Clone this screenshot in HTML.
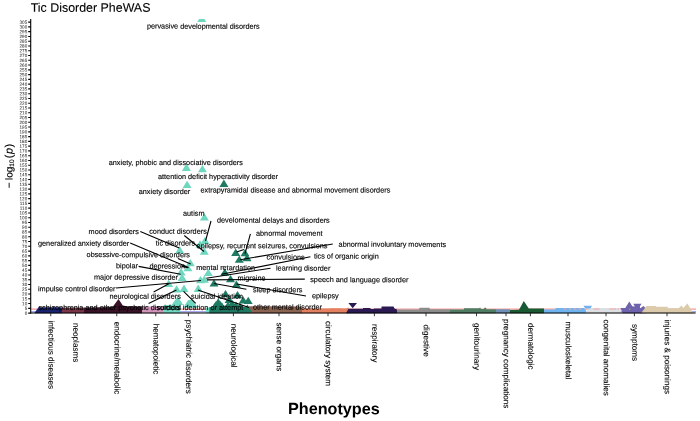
<!DOCTYPE html>
<html><head><meta charset="utf-8"><title>Tic Disorder PheWAS</title><style>html,body{margin:0;padding:0;background:#fff;width:700px;height:421px;overflow:hidden}</style></head><body>
<svg width="700" height="421" viewBox="0 0 700 421" style="position:absolute;left:0;top:0;opacity:0.999;will-change:transform;font-family:'Liberation Sans',sans-serif" text-rendering="geometricPrecision">
<defs><clipPath id="pc"><rect x="31" y="19" width="666" height="295"/></clipPath></defs>
<rect width="700" height="421" fill="#fff"/>
<line x1="31" x2="696" y1="309.1" y2="309.1" stroke="#f59a9a" stroke-width="1.2"/>
<line x1="31" x2="696" y1="311.8" y2="311.8" stroke="#a9a6f2" stroke-width="1.5"/>
<polygon points="34.5,313.2 34.5,313.0 38.5,307.3 58.0,307.3 62.0,307.6 62,313.2" fill="#18226e"/>
<polygon points="62,313.2 62.0,307.6 84.0,307.6 84,313.2" fill="#7a3648"/>
<polygon points="84,313.2 84.0,307.6 100.0,307.2 112.6,307.0 118.5,299.0 122.8,305.6 127.0,306.2 142.0,306.4 142,313.2" fill="#3a1228"/>
<polygon points="142,313.2 142.0,306.6 163.6,306.8 163.6,313.2" fill="#d394bb"/>
<polygon points="163.6,313.2 163.6,305.0 180.3,305.0 180.3,313.2" fill="#6fd6bf"/>
<polygon points="205.8,313.2 205.8,307.6 209.5,307.6 209.5,313.2" fill="#6fd6bf"/>
<polygon points="209.3,313.2 209.3,307.0 245.0,306.8 249.5,307.5 249.5,313.2" fill="#1f7a63"/>
<polygon points="249,313.2 249.0,306.2 299.0,306.4 303.0,308.0 303,313.2" fill="#8b6351"/>
<polygon points="302,313.2 302.0,308.5 330.0,308.5 330.0,308.2 342.0,308.2 342.0,308.5 346.0,308.5 348.6,307.6 348.6,313.2" fill="#e2805f"/>
<polygon points="346,313.2 346.0,313.2 348.5,308.8 363.0,308.8 363.0,308.0 370.5,308.0 370.5,309.0 374.0,309.0 374.0,308.5 381.5,308.5 381.5,306.5 393.5,306.5 394.5,308.5 397.0,309.5 397,313.2" fill="#2b1a52"/>
<polygon points="397,313.2 397.0,309.5 419.0,309.5 419.5,307.8 429.5,307.8 430.0,309.2 450.0,309.2 450,313.2" fill="#8c8c8c"/>
<polygon points="450,313.2 450.0,309.4 464.0,309.4 464.0,308.2 479.5,308.2 480.0,307.2 480.6,308.2 481.0,309.0 484.0,309.0 484.5,307.8 486.0,307.8 486.5,309.2 496.0,309.2 496,313.2" fill="#4f7d63"/>
<polygon points="496,313.2 496.0,309.2 510.0,309.2 510,313.2" fill="#6f8fb5"/>
<polygon points="510,313.2 510.0,310.0 519.0,309.8 523.8,301.0 528.8,308.6 544.0,308.5 544,313.2" fill="#1a5a32"/>
<polygon points="544,313.2 544.0,309.6 555.0,309.4 556.0,308.1 584.0,308.1 588.0,313.2 587,313.2" fill="#6fb4ee"/>
<polygon points="585,313.2 585.0,313.2 588.5,307.9 620.5,307.9 621,313.2" fill="#dcdfe3"/>
<polygon points="348.4,303.0 357.0,303.0 352.7,308.2" fill="#2b1a52"/>
<polygon points="583.5,305.8 592,305.8 590.4,308.5 585.2,308.5" fill="#6fb4ee"/>
<path d="M563.5 309h3M569 309h2.5M573.5 309h3M578.5 309h3M593.5 309h6M609.5 309h6.5M617.5 309h1.5" stroke="#f7a6a6" stroke-width="1" fill="none"/>
<polygon points="620.5,308 641.7,308 643,313.2 622.6,313.2" fill="#6f63ad"/>
<polygon points="624.6,309 629.3,301.5 634,309" fill="#6f63ad"/>
<polygon points="633.2,303.7 641.5,303.7 637.4,310.5" fill="#6f63ad"/>
<polygon points="640,308.5 643.5,306 646,308.5 646,313.2 640,313.2" fill="#6f63ad"/>
<polygon points="631,306.4 640,306.4 640,309 631,309" fill="#6f63ad"/>
<rect x="629.2" y="308.8" width="1.2" height="0.9" fill="#e9a05a"/>
<polygon points="641,313.2 646.5,306.0 656,306.0 656,306.7 667.8,306.7 667.8,308.3 678.6,308.3 681.5,305.5 683.2,308 687.5,303.5 692.5,312 694,313.2" fill="#dccbaa"/>
<g clip-path="url(#pc)">
<polygon points="183.6,307.6 188.6,299.9 192,299.9 197.4,307.6" fill="#6fd6bf"/>
<polygon points="171.5,305 177.6,296.8 183.2,305" fill="#6fd6bf"/>
<polygon points="201.7,14.6 197.2,21.9 206.2,21.9" fill="#6fd6bf"/>
<polygon points="186.4,163.6 181.9,170.9 190.9,170.9" fill="#6fd6bf"/>
<polygon points="202.4,165.0 197.9,172.3 206.9,172.3" fill="#6fd6bf"/>
<polygon points="187.1,180.7 182.6,188.0 191.6,188.0" fill="#6fd6bf"/>
<polygon points="204.4,213.2 199.9,220.5 208.9,220.5" fill="#6fd6bf"/>
<polygon points="205.0,236.7 200.5,244.0 209.5,244.0" fill="#6fd6bf"/>
<polygon points="200.0,240.3 195.5,247.6 204.5,247.6" fill="#6fd6bf"/>
<polygon points="204.3,247.5 199.8,254.8 208.8,254.8" fill="#6fd6bf"/>
<polygon points="179.7,246.1 175.2,253.4 184.2,253.4" fill="#6fd6bf"/>
<polygon points="190.3,258.9 185.8,266.2 194.8,266.2" fill="#6fd6bf"/>
<polygon points="187.9,263.9 183.4,271.2 192.4,271.2" fill="#6fd6bf"/>
<polygon points="181.1,268.1 176.6,275.4 185.6,275.4" fill="#6fd6bf"/>
<polygon points="182.1,273.8 177.6,281.1 186.6,281.1" fill="#6fd6bf"/>
<polygon points="208.3,268.8 203.8,276.1 212.8,276.1" fill="#6fd6bf"/>
<polygon points="204.3,275.4 199.8,282.7 208.8,282.7" fill="#6fd6bf"/>
<polygon points="200.5,276.0 196.0,283.3 205.0,283.3" fill="#6fd6bf"/>
<polygon points="168.6,279.8 164.1,287.1 173.1,287.1" fill="#6fd6bf"/>
<polygon points="176.6,285.2 172.1,292.5 181.1,292.5" fill="#6fd6bf"/>
<polygon points="184.0,284.6 179.5,291.9 188.5,291.9" fill="#6fd6bf"/>
<polygon points="198.2,284.6 193.7,291.9 202.7,291.9" fill="#6fd6bf"/>
<polygon points="177.8,296.6 173.3,303.9 182.3,303.9" fill="#6fd6bf"/>
<polygon points="188.2,299.9 183.7,307.2 192.7,307.2" fill="#6fd6bf"/>
<polygon points="190.2,299.6 185.7,306.9 194.7,306.9" fill="#6fd6bf"/>
<polygon points="192.6,300.0 188.1,307.3 197.1,307.3" fill="#6fd6bf"/>
<polygon points="223.9,179.6 219.4,186.9 228.4,186.9" fill="#1f7a63"/>
<polygon points="235.7,248.6 231.2,255.9 240.2,255.9" fill="#1f7a63"/>
<polygon points="245.0,249.0 240.5,256.3 249.5,256.3" fill="#1f7a63"/>
<polygon points="247.0,253.9 242.5,261.2 251.5,261.2" fill="#1f7a63"/>
<polygon points="239.3,255.4 234.8,262.7 243.8,262.7" fill="#1f7a63"/>
<polygon points="224.8,268.5 220.3,275.8 229.3,275.8" fill="#1f7a63"/>
<polygon points="230.5,274.9 226.0,282.2 235.0,282.2" fill="#1f7a63"/>
<polygon points="214.0,279.2 209.5,286.5 218.5,286.5" fill="#1f7a63"/>
<polygon points="236.4,280.5 231.9,287.8 240.9,287.8" fill="#1f7a63"/>
<polygon points="225.5,289.9 221.0,297.2 230.0,297.2" fill="#1f7a63"/>
<polygon points="237.5,290.9 233.0,298.2 242.0,298.2" fill="#1f7a63"/>
<polygon points="229.1,295.6 224.6,302.9 233.6,302.9" fill="#1f7a63"/>
<polygon points="243.2,296.2 238.7,303.5 247.7,303.5" fill="#1f7a63"/>
<polygon points="248.2,296.7 243.7,304.0 252.7,304.0" fill="#1f7a63"/>
<polygon points="218.2,298.3 213.7,305.6 222.7,305.6" fill="#1f7a63"/>
<polygon points="216.0,301.1 211.5,308.4 220.5,308.4" fill="#1f7a63"/>
<polygon points="220.5,301.1 216.0,308.4 225.0,308.4" fill="#1f7a63"/>
<polygon points="214.5,303.1 210.0,310.4 219.0,310.4" fill="#1f7a63"/>
<polygon points="222.0,302.6 217.5,309.9 226.5,309.9" fill="#1f7a63"/>
<polygon points="247.4,304.6 242.9,311.9 251.9,311.9" fill="#1f7a63"/>
<polygon points="232.0,299.6 227.5,306.9 236.5,306.9" fill="#1f7a63"/>
<polygon points="236.0,301.6 231.5,308.9 240.5,308.9" fill="#1f7a63"/>
<polygon points="240.0,302.6 235.5,309.9 244.5,309.9" fill="#1f7a63"/>
<polygon points="228.0,301.6 223.5,308.9 232.5,308.9" fill="#1f7a63"/>
</g>
<path d="M332.8 244.0L240.2 259.7M310.4 256.8L221.5 274.2M270.5 268.2L206.3 278.2M304.8 279.15L207 279.9M250.4 233.9L245 253.6M236.6 252L244 249.5M211 221L205.5 241M184.3 235.5L204 251.5M140.3 231.4L179.3 247.9M130.2 243.0L188.6 267.6M177.9 258.6L190.7 263.9M138.6 266.4L180.7 274.3M182 266.4L187.9 267.6M116 288L201 280.5M153.6 292L169.3 283.6M148.6 303.4L176.4 289.9M183.6 291.3L195.7 303.4M197.9 289.9L249 307.5M246.4 289.2L214 283.5M306 296L236.5 284" stroke="#000" stroke-width="1.08" fill="none"/>
<g font-size="7.3" fill="#000" stroke="#000" stroke-width="0.12">
<text transform="translate(146.9,28.60) rotate(0.05)">pervasive developmental disorders</text>
<text transform="translate(108.75,165.00) rotate(0.05)">anxiety, phobic and dissociative disorders</text>
<text transform="translate(158,178.90) rotate(0.05)">attention deficit hyperactivity disorder</text>
<text transform="translate(138.75,194.00) rotate(0.05)">anxiety disorder</text>
<text transform="translate(200.5,192.40) rotate(0.05)">extrapyramidal disease and abnormal movement disorders</text>
<text transform="translate(183,215.80) rotate(0.05)">autism</text>
<text transform="translate(217,222.60) rotate(0.05)">develomental delays and disorders</text>
<text transform="translate(88.6,234.00) rotate(0.05)">mood disorders</text>
<text transform="translate(149.2,233.80) rotate(0.05)">conduct disorders</text>
<text transform="translate(256,235.70) rotate(0.05)">abnormal movement</text>
<text transform="translate(38,245.80) rotate(0.05)">generalized anxiety disorder</text>
<text transform="translate(155.8,245.50) rotate(0.05)">tic disorders</text>
<text transform="translate(196.6,248.20) rotate(0.05)">epilepsy, recurrent seizures, convulsions</text>
<text transform="translate(338.6,246.80) rotate(0.05)">abnormal involuntary movements</text>
<text transform="translate(86.6,257.10) rotate(0.05)">obsessive-compulsive disorders</text>
<text transform="translate(266.6,259.60) rotate(0.05)">convulsions</text>
<text transform="translate(313.9,258.60) rotate(0.05)">tics of organic origin</text>
<text transform="translate(116,268.30) rotate(0.05)">bipolar</text>
<text transform="translate(149.4,268.50) rotate(0.05)">depression</text>
<text transform="translate(196.2,270.10) rotate(0.05)">mental retardation</text>
<text transform="translate(276,270.60) rotate(0.05)">learning disorder</text>
<text transform="translate(94,279.60) rotate(0.05)">major depressive disorder</text>
<text transform="translate(237.6,280.50) rotate(0.05)">migraine</text>
<text transform="translate(310.2,282.10) rotate(0.05)">speech and language disorder</text>
<text transform="translate(38,291.20) rotate(0.05)">impulse control disorder</text>
<text transform="translate(253,292.30) rotate(0.05)">sleep disorders</text>
<text transform="translate(109.4,298.80) rotate(0.05)">neurological disorders</text>
<text transform="translate(191.1,298.70) rotate(0.05)">suicidal ideation</text>
<text transform="translate(312,298.30) rotate(0.05)">epilepsy</text>
<text transform="translate(38.4,310.00) rotate(0.05)">schizophrenia and other psychotic disorders</text>
<text transform="translate(156.5,310.00) rotate(0.05)">suicidal ideation or attempt</text>
<text transform="translate(253,309.40) rotate(0.05)">other mental disorder</text>
</g>
<line x1="30.7" x2="30.7" y1="19" y2="313.6" stroke="#000" stroke-width="1.1"/>
<line x1="30.2" x2="695.6" y1="313.05" y2="313.05" stroke="#000" stroke-width="1.1"/>
<path d="M28.2 313.10H30.7M28.2 308.33H30.7M28.2 303.56H30.7M28.2 298.79H30.7M28.2 294.02H30.7M28.2 289.25H30.7M28.2 284.48H30.7M28.2 279.71H30.7M28.2 274.94H30.7M28.2 270.17H30.7M28.2 265.40H30.7M28.2 260.63H30.7M28.2 255.86H30.7M28.2 251.09H30.7M28.2 246.32H30.7M28.2 241.55H30.7M28.2 236.78H30.7M28.2 232.01H30.7M28.2 227.24H30.7M28.2 222.47H30.7M28.2 217.70H30.7M28.2 212.93H30.7M28.2 208.16H30.7M28.2 203.39H30.7M28.2 198.62H30.7M28.2 193.85H30.7M28.2 189.08H30.7M28.2 184.31H30.7M28.2 179.54H30.7M28.2 174.77H30.7M28.2 170.00H30.7M28.2 165.23H30.7M28.2 160.46H30.7M28.2 155.69H30.7M28.2 150.92H30.7M28.2 146.15H30.7M28.2 141.38H30.7M28.2 136.61H30.7M28.2 131.84H30.7M28.2 127.07H30.7M28.2 122.30H30.7M28.2 117.53H30.7M28.2 112.76H30.7M28.2 107.99H30.7M28.2 103.22H30.7M28.2 98.45H30.7M28.2 93.68H30.7M28.2 88.91H30.7M28.2 84.14H30.7M28.2 79.37H30.7M28.2 74.60H30.7M28.2 69.83H30.7M28.2 65.06H30.7M28.2 60.29H30.7M28.2 55.52H30.7M28.2 50.75H30.7M28.2 45.98H30.7M28.2 41.21H30.7M28.2 36.44H30.7M28.2 31.67H30.7M28.2 26.90H30.7M28.2 22.13H30.7" stroke="#000" stroke-width="1.1" fill="none"/>
<g font-size="4.6" fill="#111" text-anchor="end">
<text transform="translate(27.2,314.70) rotate(0.05)">0</text>
<text transform="translate(27.2,309.93) rotate(0.05)">5</text>
<text transform="translate(27.2,305.16) rotate(0.05)">10</text>
<text transform="translate(27.2,300.39) rotate(0.05)">15</text>
<text transform="translate(27.2,295.62) rotate(0.05)">20</text>
<text transform="translate(27.2,290.85) rotate(0.05)">25</text>
<text transform="translate(27.2,286.08) rotate(0.05)">30</text>
<text transform="translate(27.2,281.31) rotate(0.05)">35</text>
<text transform="translate(27.2,276.54) rotate(0.05)">40</text>
<text transform="translate(27.2,271.77) rotate(0.05)">45</text>
<text transform="translate(27.2,267.00) rotate(0.05)">50</text>
<text transform="translate(27.2,262.23) rotate(0.05)">55</text>
<text transform="translate(27.2,257.46) rotate(0.05)">60</text>
<text transform="translate(27.2,252.69) rotate(0.05)">65</text>
<text transform="translate(27.2,247.92) rotate(0.05)">70</text>
<text transform="translate(27.2,243.15) rotate(0.05)">75</text>
<text transform="translate(27.2,238.38) rotate(0.05)">80</text>
<text transform="translate(27.2,233.61) rotate(0.05)">85</text>
<text transform="translate(27.2,228.84) rotate(0.05)">90</text>
<text transform="translate(27.2,224.07) rotate(0.05)">95</text>
<text transform="translate(27.2,219.30) rotate(0.05)">100</text>
<text transform="translate(27.2,214.53) rotate(0.05)">105</text>
<text transform="translate(27.2,209.76) rotate(0.05)">110</text>
<text transform="translate(27.2,204.99) rotate(0.05)">115</text>
<text transform="translate(27.2,200.22) rotate(0.05)">120</text>
<text transform="translate(27.2,195.45) rotate(0.05)">125</text>
<text transform="translate(27.2,190.68) rotate(0.05)">130</text>
<text transform="translate(27.2,185.91) rotate(0.05)">135</text>
<text transform="translate(27.2,181.14) rotate(0.05)">140</text>
<text transform="translate(27.2,176.37) rotate(0.05)">145</text>
<text transform="translate(27.2,171.60) rotate(0.05)">150</text>
<text transform="translate(27.2,166.83) rotate(0.05)">155</text>
<text transform="translate(27.2,162.06) rotate(0.05)">160</text>
<text transform="translate(27.2,157.29) rotate(0.05)">165</text>
<text transform="translate(27.2,152.52) rotate(0.05)">170</text>
<text transform="translate(27.2,147.75) rotate(0.05)">175</text>
<text transform="translate(27.2,142.98) rotate(0.05)">180</text>
<text transform="translate(27.2,138.21) rotate(0.05)">185</text>
<text transform="translate(27.2,133.44) rotate(0.05)">190</text>
<text transform="translate(27.2,128.67) rotate(0.05)">195</text>
<text transform="translate(27.2,123.90) rotate(0.05)">200</text>
<text transform="translate(27.2,119.13) rotate(0.05)">205</text>
<text transform="translate(27.2,114.36) rotate(0.05)">210</text>
<text transform="translate(27.2,109.59) rotate(0.05)">215</text>
<text transform="translate(27.2,104.82) rotate(0.05)">220</text>
<text transform="translate(27.2,100.05) rotate(0.05)">225</text>
<text transform="translate(27.2,95.28) rotate(0.05)">230</text>
<text transform="translate(27.2,90.51) rotate(0.05)">235</text>
<text transform="translate(27.2,85.74) rotate(0.05)">240</text>
<text transform="translate(27.2,80.97) rotate(0.05)">245</text>
<text transform="translate(27.2,76.20) rotate(0.05)">250</text>
<text transform="translate(27.2,71.43) rotate(0.05)">255</text>
<text transform="translate(27.2,66.66) rotate(0.05)">260</text>
<text transform="translate(27.2,61.89) rotate(0.05)">265</text>
<text transform="translate(27.2,57.12) rotate(0.05)">270</text>
<text transform="translate(27.2,52.35) rotate(0.05)">275</text>
<text transform="translate(27.2,47.58) rotate(0.05)">280</text>
<text transform="translate(27.2,42.81) rotate(0.05)">285</text>
<text transform="translate(27.2,38.04) rotate(0.05)">290</text>
<text transform="translate(27.2,33.27) rotate(0.05)">295</text>
<text transform="translate(27.2,28.50) rotate(0.05)">300</text>
<text transform="translate(27.2,23.73) rotate(0.05)">305</text>
</g>
<path d="M50.75 313V316.2M75.5 313V316.2M116.75 313V316.2M155.75 313V316.2M188.4 313V316.2M233.4 313V316.2M279 313V316.2M328 313V316.2M374.4 313V316.2M426 313V316.2M476.5 313V316.2M506 313V316.2M530.4 313V316.2M568 313V316.2M606 313V316.2M634.4 313V316.2M667 313V316.2" stroke="#222" stroke-width="0.9" fill="none"/>
<g font-size="8.15" fill="#000" stroke="#000" stroke-width="0.1">
<text transform="translate(48.55,320.50) rotate(90.1)">infectious diseases</text>
<text transform="translate(73.30,323.00) rotate(90.1)">neoplasms</text>
<text transform="translate(114.55,321.70) rotate(90.1)">endocrine/metabolic</text>
<text transform="translate(153.55,323.80) rotate(90.1)">hematopoietic</text>
<text transform="translate(186.20,319.80) rotate(90.1)">psychiatric disorders</text>
<text transform="translate(231.20,323.80) rotate(90.1)">neurological</text>
<text transform="translate(276.80,322.50) rotate(90.1)">sense organs</text>
<text transform="translate(325.80,321.00) rotate(90.1)">circulatory system</text>
<text transform="translate(372.20,324.00) rotate(90.1)">respiratory</text>
<text transform="translate(423.80,324.60) rotate(90.1)">digestive</text>
<text transform="translate(474.30,323.00) rotate(90.1)">genitourinary</text>
<text transform="translate(503.80,318.90) rotate(90.1)">pregnancy complications</text>
<text transform="translate(528.20,323.00) rotate(90.1)">dermatologic</text>
<text transform="translate(565.80,321.60) rotate(90.1)">musculoskeletal</text>
<text transform="translate(603.80,319.50) rotate(90.1)">congenital anomalies</text>
<text transform="translate(632.20,324.00) rotate(90.1)">symptoms</text>
<text transform="translate(664.80,319.50) rotate(90.1)">injuries &amp; poisonings</text>
</g>
<text transform="translate(30.7,11.7) rotate(0.05)" font-size="12.42" fill="#000" stroke="#000" stroke-width="0.1">Tic Disorder PheWAS</text>
<text transform="translate(288,414.1) rotate(0.05)" font-size="16.2" font-weight="bold" fill="#000">Phenotypes</text>
<text transform="translate(12.5,188.2) rotate(-90.1)" font-size="10" fill="#000" stroke="#000" stroke-width="0.15">−<tspan dx="2.3">log</tspan><tspan font-size="6.5" dy="1.5">10</tspan><tspan dy="-1.5" dx="1.3" font-size="10.8">(</tspan><tspan font-style="italic" font-size="10.8" dx="0.5">p</tspan><tspan font-size="10.8" dx="0.6">)</tspan></text>
</svg>
</body></html>
